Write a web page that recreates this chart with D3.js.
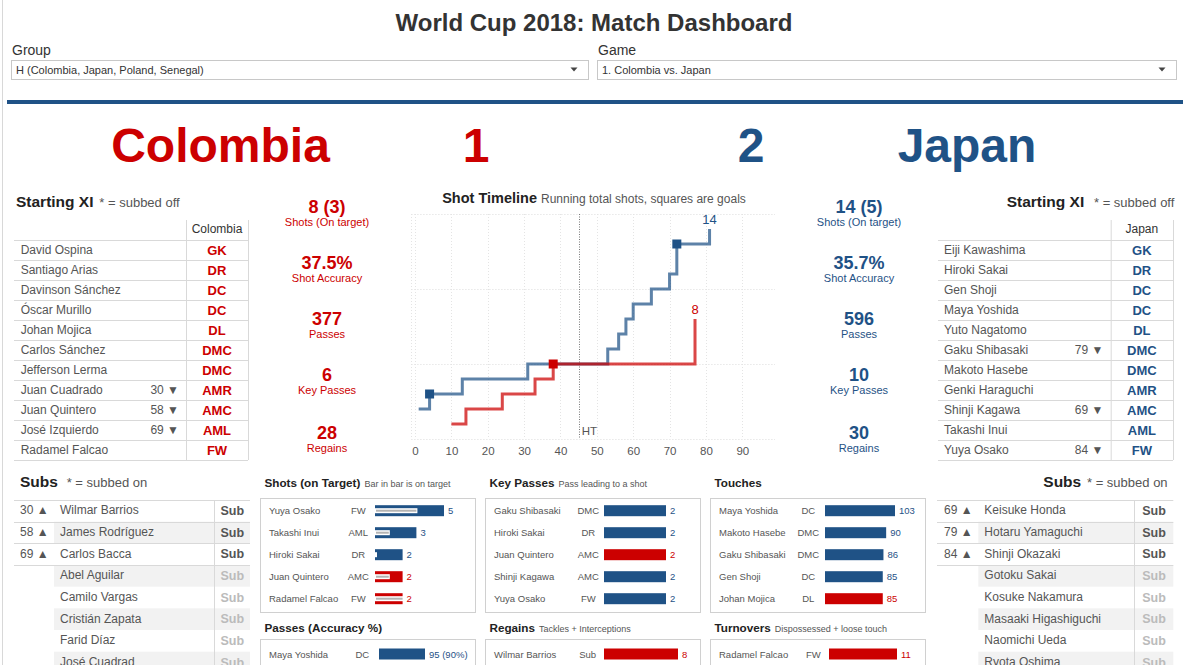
<!DOCTYPE html>
<html><head><meta charset="utf-8">
<script src="https://cdn.jsdelivr.net/npm/d3@7"></script>
<style>
html,body{margin:0;padding:0;background:#fff;overflow:hidden;}
svg{display:block;font-family:"Liberation Sans",Arial,Helvetica,sans-serif;}
</style></head><body>
<svg id="c" width="1183" height="665"></svg>
<script>
// ---------------- DATA ----------------
const dashTitle = "World Cup 2018: Match Dashboard";
const filterLabels = ["Group", "Game"];
const filterValues = ["H (Colombia, Japan, Poland, Senegal)", "1. Colombia vs. Japan"];

const teamNames = ["Colombia", "Japan"];
const teamCodes = ["COL", "JPN"];
const teamGoals = [1, 2];

const colXINames = ["David Ospina","Santiago Arias","Davinson Sánchez","Óscar Murillo","Johan Mojica","Carlos Sánchez","Jefferson Lerma","Juan Cuadrado","Juan Quintero","José Izquierdo","Radamel Falcao"];
const colXIPos = ["GK","DR","DC","DC","DL","DMC","DMC","AMR","AMC","AML","FW"];
const colXIOff = [null,null,null,null,null,null,null,30,58,69,null];

const jpnXINames = ["Eiji Kawashima","Hiroki Sakai","Gen Shoji","Maya Yoshida","Yuto Nagatomo","Gaku Shibasaki","Makoto Hasebe","Genki Haraguchi","Shinji Kagawa","Takashi Inui","Yuya Osako"];
const jpnXIPos = ["GK","DR","DC","DC","DL","DMC","DMC","AMR","AMC","AML","FW"];
const jpnXIOff = [null,null,null,null,null,79,null,null,69,null,84];

const colSubNames = ["Wilmar Barrios","James Rodríguez","Carlos Bacca","Abel Aguilar","Camilo Vargas","Cristián Zapata","Farid Díaz","José Cuadrad"];
const colSubOn = [30,58,69,null,null,null,null,null];
const jpnSubNames = ["Keisuke Honda","Hotaru Yamaguchi","Shinji Okazaki","Gotoku Sakai","Kosuke Nakamura","Masaaki Higashiguchi","Naomichi Ueda","Ryota Oshima"];
const jpnSubOn = [69,79,84,null,null,null,null,null];

const statLabels = ["Shots (On target)","Shot Accuracy","Passes","Key Passes","Regains"];
const colStatValues = ["8 (3)","37.5%","377","6","28"];
const jpnStatValues = ["14 (5)","35.7%","596","10","30"];

// Shot timeline (minute, running total after that minute)
const timelineTicks = [0,10,20,30,40,50,60,70,80,90];
const timelineTotalsGrid = [0,5,10,15];
const halfTimeMinute = 45;
const jpnShotMinutes = [1,4,13,31,53,56,58,60,65,70,72,81];
const jpnShotTotals  = [2,3,4,5,6,7,8,9,10,11,13,14];
const jpnGoalMinutes = [4,72];
const colShotMinutes = [10,14,24,33,38,77];
const colShotTotals  = [1,2,3,4,5,8];
const colGoalMinutes = [38];

// Bottom panels
const shotsNames = ["Yuya Osako","Takashi Inui","Hiroki Sakai","Juan Quintero","Radamel Falcao"];
const shotsPos = ["FW","AML","DR","AMC","FW"];
const shotsTeam = ["JPN","JPN","JPN","COL","COL"];
const shotsTotal = [5,3,2,2,2];
const shotsOnTarget = [3,1,0,1,2];

const passNames = ["Maya Yoshida"];
const passPos = ["DC"];
const passTeam = ["JPN"];
const passTotal = [95];
const passAccuracy = [90];

const keyPassNames = ["Gaku Shibasaki","Hiroki Sakai","Juan Quintero","Shinji Kagawa","Yuya Osako"];
const keyPassPos = ["DMC","DR","AMC","AMC","FW"];
const keyPassTeam = ["JPN","JPN","COL","JPN","JPN"];
const keyPassTotal = [2,2,2,2,2];

const regainNames = ["Wilmar Barrios"];
const regainPos = ["Sub"];
const regainTeam = ["COL"];
const regainTotal = [8];

const touchNames = ["Maya Yoshida","Makoto Hasebe","Gaku Shibasaki","Gen Shoji","Johan Mojica"];
const touchPos = ["DC","DMC","DMC","DC","DL"];
const touchTeam = ["JPN","JPN","JPN","JPN","COL"];
const touchTotal = [103,90,86,85,85];

const turnoverNames = ["Radamel Falcao"];
const turnoverPos = ["FW"];
const turnoverTeam = ["COL"];
const turnoverTotal = [11];

// ---------------- DRAW ----------------
const RED = "#cc0000", BLUE = "#1f5286", GRAY = "#555", LINE = "#d9d9d9";
const teamColor = t => t === "COL" ? RED : BLUE;
const svg = d3.select("#c");

function T(sel, x, y, s, size, fill, weight, anchor) {
  return sel.append("text").attr("x", x).attr("y", y).attr("font-size", size)
    .attr("fill", fill).attr("font-weight", weight || "normal")
    .attr("text-anchor", anchor || "start").text(s);
}

// outer border
svg.append("line").attr("x1", 2.5).attr("x2", 2.5).attr("y1", 0).attr("y2", 665).attr("stroke", "#d8d8d8");

// title
T(svg, 594, 31, dashTitle, 24, "#333", "bold", "middle");

// filters
const filterBoxes = [{x: 11, w: 577}, {x: 597, w: 579}];
filterBoxes.forEach((b, i) => {
  T(svg, b.x + 1, 55, filterLabels[i], 14, "#333");
  svg.append("rect").attr("x", b.x + .5).attr("y", 60.5).attr("width", b.w).attr("height", 19)
    .attr("fill", "#fff").attr("stroke", "#c8c8c8");
  T(svg, b.x + 5, 74, filterValues[i], 11, "#333");
  svg.append("path").attr("transform", `translate(${b.x + b.w - 14},69.5)`)
    .attr("d", "M-3.5,-2L3.5,-2L0,2Z").attr("fill", "#444");
});

// rule
svg.append("rect").attr("x", 7).attr("y", 100).attr("width", 1176).attr("height", 4).attr("fill", BLUE);

// team names & scores
const teamNameX = [220.5, 967], teamScoreX = [476, 751];
teamNames.forEach((n, i) => {
  const c = i === 0 ? RED : BLUE;
  T(svg, teamNameX[i], 162, n, 48, c, "bold", "middle");
  T(svg, teamScoreX[i], 162, teamGoals[i], 48, c, "bold", "middle");
});

// Starting XI tables
function xiTable(cfg, names, pos, off, color, header) {
  const g = svg.append("g");
  const rowH = 20, top = 240, headTop = 220, n = names.length;
  T(g, cfg.titleX, 207, "Starting XI", 15.5, "#222", "bold");
  T(g, cfg.subX, 207, "* = subbed off", 13, GRAY);
  g.selectAll("line.h").data(d3.range(n + 1)).join("line")
    .attr("x1", cfg.left).attr("x2", cfg.right)
    .attr("y1", i => top + i * rowH + .5).attr("y2", i => top + i * rowH + .5)
    .attr("stroke", LINE);
  [cfg.div, cfg.right].forEach(x => g.append("line").attr("x1", x + .5).attr("x2", x + .5)
    .attr("y1", headTop).attr("y2", top + n * rowH).attr("stroke", LINE));
  const cx = (cfg.div + cfg.right) / 2;
  T(g, cx, 233, header, 12, "#333", "normal", "middle");
  names.forEach((nm, i) => {
    const y0 = top + i * rowH;
    T(g, cfg.nameX, y0 + 14, nm, 12, GRAY);
    if (off[i] != null) T(g, cfg.minX, y0 + 14, off[i] + " ▼", 12, GRAY, "normal", "end");
    T(g, cx, y0 + 15, pos[i], 13, color, "bold", "middle");
  });
}
xiTable({titleX: 16, subX: 99.3, left: 14, div: 186, right: 248, nameX: 20.7, minX: 179},
  colXINames, colXIPos, colXIOff, RED, teamNames[0]);
xiTable({titleX: 1006.7, subX: 1094, left: 938, div: 1110.7, right: 1173, nameX: 944, minX: 1103.3},
  jpnXINames, jpnXIPos, jpnXIOff, BLUE, teamNames[1]);

// Stats columns
const statValueY = [213, 268.5, 325, 381, 439];
function stats(cx, values, color) {
  values.forEach((v, i) => {
    T(svg, cx, statValueY[i], v, 18, color, "bold", "middle");
    T(svg, cx, statValueY[i] + 13, statLabels[i], 11, color, "normal", "middle");
  });
}
stats(327, colStatValues, RED);
stats(859, jpnStatValues, BLUE);

// Shot timeline
(function () {
  const g = svg.append("g");
  const x = d3.scaleLinear().domain([-1, 99]).range([411.4, 775]);
  const y = d3.scaleLinear().domain([0, 15]).range([439, 214]);
  const tt = T(g, 594, 203, "", 14.5, "#222", "bold", "middle");
  tt.append("tspan").text("Shot Timeline");
  tt.append("tspan").attr("font-weight", "normal").attr("font-size", 12).attr("fill", GRAY).attr("dx", 4)
    .text("Running total shots, squares are goals");
  g.selectAll("line.gy").data(timelineTotalsGrid).join("line")
    .attr("x1", x(-1)).attr("x2", x(99)).attr("y1", d => Math.round(y(d)) + .5).attr("y2", d => Math.round(y(d)) + .5)
    .attr("stroke", "#dcdcdc").attr("stroke-dasharray", "1,2");
  g.selectAll("line.gx").data([-1].concat(timelineTicks)).join("line")
    .attr("x1", d => Math.round(x(d)) + .5).attr("x2", d => Math.round(x(d)) + .5).attr("y1", y(15)).attr("y2", y(0))
    .attr("stroke", "#e4e4e4").attr("stroke-dasharray", "1,2");
  const ax = g.append("g").attr("transform", `translate(0,${y(0)})`)
    .call(d3.axisBottom(x).tickValues(timelineTicks).tickSize(0).tickPadding(8));
  ax.select(".domain").remove();
  ax.selectAll("text").attr("font-size", 11.5).attr("fill", GRAY).attr("font-family", "Liberation Sans,Arial,sans-serif");
  // half time
  g.append("line").attr("x1", Math.round(x(halfTimeMinute)) + .5).attr("x2", Math.round(x(halfTimeMinute)) + .5)
    .attr("y1", y(15)).attr("y2", y(0)).attr("stroke", "#777").attr("stroke-dasharray", "1,1.5");
  T(g, x(halfTimeMinute) + 3, 435, "HT", 11.5, GRAY);
  const line = d3.line().x(d => x(d.m)).y(d => y(d.c)).curve(d3.curveStepAfter);
  const series = [
    {m: jpnShotMinutes, c: jpnShotTotals, goals: jpnGoalMinutes, color: BLUE},
    {m: colShotMinutes, c: colShotTotals, goals: colGoalMinutes, color: RED}
  ];
  series.forEach(s => {
    const pts = s.m.map((m, i) => ({m, c: s.c[i]}));
    g.append("path").attr("d", line(pts)).attr("fill", "none").attr("stroke", s.color)
      .attr("stroke-width", 3).attr("stroke-opacity", 0.72);
  });
  series.forEach(s => {
    const pts = s.m.map((m, i) => ({m, c: s.c[i]}));
    g.selectAll(null).data(pts.filter(p => s.goals.includes(p.m))).join("rect")
      .attr("x", d => x(d.m) - 4.5).attr("y", d => y(d.c) - 4.5).attr("width", 9).attr("height", 9)
      .attr("fill", s.color);
    const last = pts[pts.length - 1];
    T(g, x(last.m), y(last.c) - 5, last.c, 13, s.color, "normal", "middle");
  });
})();

// Subs tables
function subsTable(cfg, names, on) {
  const g = svg.append("g");
  const top = 500, rowH = 21.67;
  T(g, cfg.titleX, 487, "Subs", 15.5, "#222", "bold");
  T(g, cfg.subX, 487, "* = subbed on", 13, GRAY);
  names.forEach((nm, i) => {
    if (i % 2 === 1) g.append("rect").attr("x", cfg.grayX).attr("y", top + i * rowH)
      .attr("width", cfg.right - cfg.grayX).attr("height", rowH).attr("fill", "#f2f2f2");
  });
  const nOn = on.filter(d => d != null).length;
  g.selectAll("line.h").data(d3.range(nOn + 1)).join("line")
    .attr("x1", cfg.left).attr("x2", cfg.right)
    .attr("y1", i => Math.round(top + i * rowH) + .5).attr("y2", i => Math.round(top + i * rowH) + .5)
    .attr("stroke", LINE);
  g.append("line").attr("x1", cfg.div + .5).attr("x2", cfg.div + .5).attr("y1", top).attr("y2", 665).attr("stroke", LINE);
  names.forEach((nm, i) => {
    const y0 = top + i * rowH;
    if (on[i] != null) T(g, cfg.minX, y0 + 14.3, on[i] + " ▲", 12, GRAY);
    T(g, cfg.nameX, y0 + 14.3, nm, 12, GRAY);
    T(g, cfg.subCX, y0 + 15, "Sub", 12.5, on[i] != null ? GRAY : "#bbb", "bold", "middle");
  });
}
subsTable({titleX: 20, subX: 66.7, left: 14, div: 214, right: 250, grayX: 54, minX: 20, nameX: 60, subCX: 232.3},
  colSubNames, colSubOn);
subsTable({titleX: 1043.3, subX: 1087, left: 937, div: 1134, right: 1173.3, grayX: 978.3, minX: 944, nameX: 984.3, subCX: 1154},
  jpnSubNames, jpnSubOn);

// Bottom panels
function panel(cfg, names, pos, team, values, labels, inner) {
  const g = svg.append("g");
  const tt = T(g, cfg.x + 4.5, cfg.titleY, "", 11.7, "#222", "bold");
  tt.append("tspan").text(cfg.title);
  if (cfg.subtitle) tt.append("tspan").attr("font-weight", "normal").attr("font-size", 9).attr("fill", GRAY)
    .attr("dx", 4).text(cfg.subtitle);
  g.append("rect").attr("x", cfg.x + .5).attr("y", cfg.boxTop + .5).attr("width", 215).attr("height", cfg.boxH)
    .attr("fill", "none").attr("stroke", "#d0d0d0");
  const xs = d3.scaleLinear().domain([0, d3.max(values)]).range([0, cfg.barW]);
  const first = cfg.boxTop + cfg.rowStart;
  const ys = d3.scalePoint().domain(d3.range(names.length)).range([first, first + (names.length - 1) * 22]);
  names.forEach((nm, i) => {
    const yc = ys(i), c = teamColor(team[i]);
    T(g, cfg.x + 9, yc + 3.5, nm, 9.5, GRAY);
    T(g, cfg.posX, yc + 3.5, pos[i], 9.5, GRAY, "normal", "middle");
    g.append("rect").attr("x", cfg.barX).attr("y", yc - 5.5).attr("width", xs(values[i])).attr("height", 11).attr("fill", c);
    if (inner) {
      g.append("rect").attr("x", cfg.barX).attr("y", yc - 2.5).attr("width", Math.max(xs(inner[i]) + 1, 2)).attr("height", 5).attr("fill", "#fff");
      g.append("rect").attr("x", cfg.barX + 1).attr("y", yc - 1).attr("width", Math.max(xs(inner[i]) - 1, 0)).attr("height", 2).attr("fill", "#b3b3b3");
    }
    T(g, cfg.barX + xs(values[i]) + 4, yc + 3.5, labels[i], 9.5, c);
  });
}
panel({x: 260, title: "Shots (on Target)", subtitle: "Bar in bar is on target", titleY: 487, boxTop: 498, boxH: 114, rowStart: 12.7, posX: 358.3, barX: 375, barW: 69},
  shotsNames, shotsPos, shotsTeam, shotsTotal, shotsTotal.map(String), shotsOnTarget);
panel({x: 260, title: "Passes (Accuracy %)", subtitle: "", titleY: 632, boxTop: 639, boxH: 60, rowStart: 15, posX: 362.3, barX: 379, barW: 46},
  passNames, passPos, passTeam, passTotal, passTotal.map((v, i) => `${v} (${passAccuracy[i]}%)`));
panel({x: 485, title: "Key Passes", subtitle: "Pass leading to a shot", titleY: 487, boxTop: 498, boxH: 114, rowStart: 12.7, posX: 588.3, barX: 604, barW: 62},
  keyPassNames, keyPassPos, keyPassTeam, keyPassTotal, keyPassTotal.map(String));
panel({x: 485, title: "Regains", subtitle: "Tackles + Interceptions", titleY: 632, boxTop: 639, boxH: 60, rowStart: 15, posX: 587.7, barX: 604, barW: 74},
  regainNames, regainPos, regainTeam, regainTotal, regainTotal.map(String));
panel({x: 710, title: "Touches", subtitle: "", titleY: 487, boxTop: 498, boxH: 114, rowStart: 12.7, posX: 808.3, barX: 825, barW: 70},
  touchNames, touchPos, touchTeam, touchTotal, touchTotal.map(String));
panel({x: 710, title: "Turnovers", subtitle: "Dispossessed + loose touch", titleY: 632, boxTop: 639, boxH: 60, rowStart: 15, posX: 813.3, barX: 829, barW: 68},
  turnoverNames, turnoverPos, turnoverTeam, turnoverTotal, turnoverTotal.map(String));
</script>
</body></html>
